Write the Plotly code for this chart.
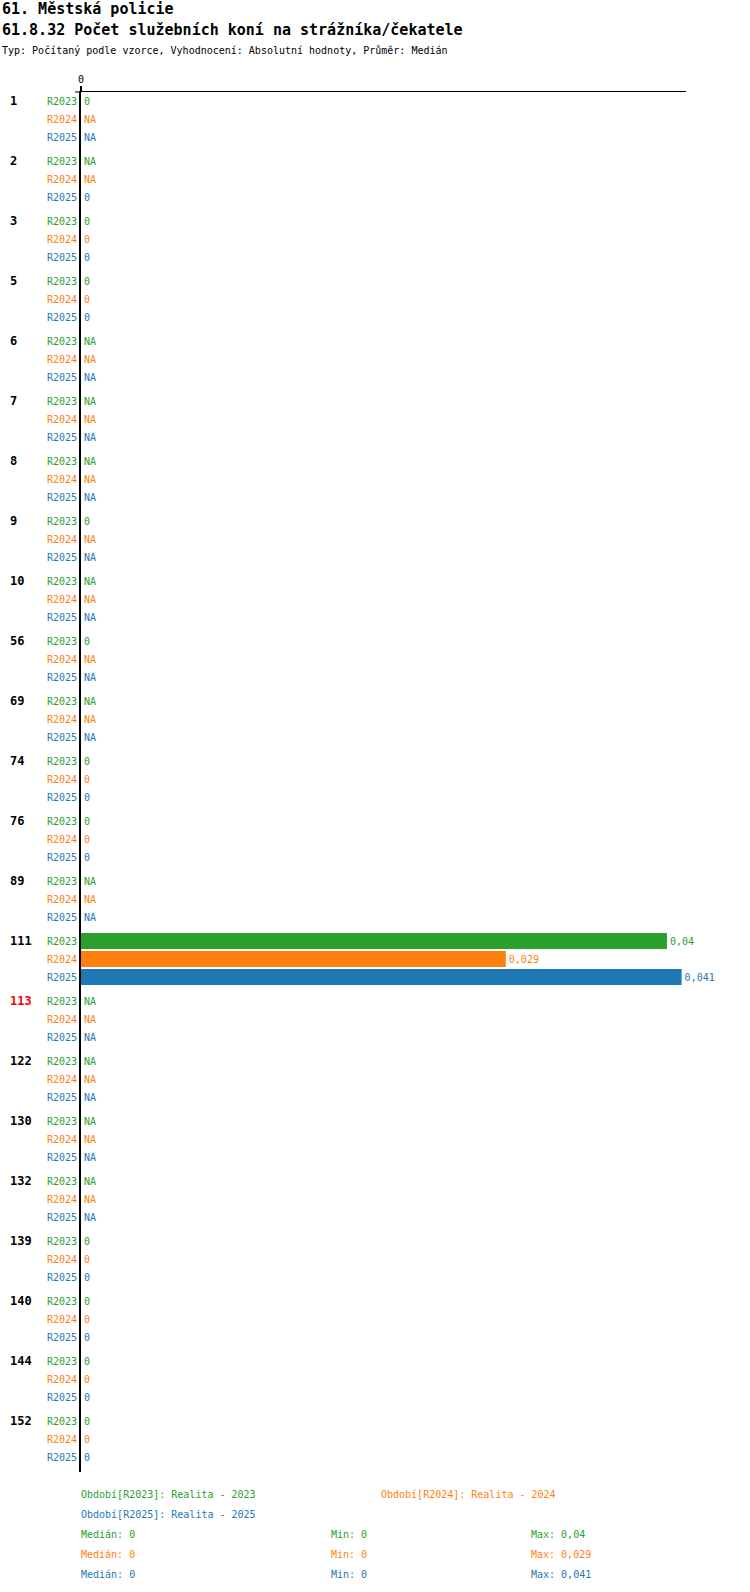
import numpy as np
import plotly.graph_objects as go

NA = None

groups = ["1", "2", "3", "5", "6", "7", "8", "9", "10", "56", "69", "74", "76",
          "89", "111", "113", "122", "130", "132", "139", "140", "144", "152"]
highlight = "113"

periods = ["R2023", "R2024", "R2025"]
period_names = ["Realita - 2023", "Realita - 2024", "Realita - 2025"]
colors = ["#2ca02c", "#ff7f0e", "#1f77b4"]

r2023 = [0, NA, 0, 0, NA, NA, NA, 0, NA, 0, NA, 0, 0, NA, 0.04, NA, NA, NA, NA, 0, 0, 0, 0]
r2024 = [NA, NA, 0, 0, NA, NA, NA, NA, NA, NA, NA, 0, 0, NA, 0.029, NA, NA, NA, NA, 0, 0, 0, 0]
r2025 = [NA, 0, 0, 0, NA, NA, NA, NA, NA, NA, NA, 0, 0, NA, 0.041, NA, NA, NA, NA, 0, 0, 0, 0]
series = [r2023, r2024, r2025]

title = "61. Městská policie"
subtitle = "61.8.32 Počet služebních koní na strážníka/čekatele"
info = "Typ: Počítaný podle vzorce, Vyhodnocení: Absolutní hodnoty, Průměr: Medián"

# page geometry (pixels)
W, H = 750, 1592
L, R, T, B = 81, 64, 92, 120
SLOT = 60 / 18  # rows per group incl. gap
FONT = "DejaVu Sans Mono"


def px(x):
    return (x - L) / (W - L - R)


def py(y):
    return 1 - (y - T) / (H - T - B)


def fmt(v):
    return "NA" if v is None else f"{v:g}".replace(".", ",")


n = len(groups)
fig = go.Figure()
tickvals, ticktext = [], []
for k, (name, vals, col) in enumerate(zip(periods, series, colors)):
    ys = [g * SLOT + k for g in range(n)]
    fig.add_trace(go.Bar(
        y=ys,
        x=[0 if v is None else v for v in vals],
        orientation="h",
        width=0.89,
        marker=dict(color=col, line=dict(width=0)),
        text=[fmt(v) for v in vals],
        textposition="outside",
        textfont=dict(family=FONT, size=10, color=col),
        constraintext="none",
        cliponaxis=False,
        name=name,
        hoverinfo="skip",
    ))
    tickvals += ys
    ticktext += [f"<span style='color:{col}'>{name}</span>"] * n

annotations = []
for g, lab in enumerate(groups):
    annotations.append(dict(
        x=px(8), xref="paper", xanchor="left",
        y=g * SLOT, yref="y", yanchor="middle",
        text=f"<b>{lab}</b>", showarrow=False,
        font=dict(family=FONT, size=12, color="red" if lab == highlight else "black"),
    ))


def note(x, y, text, size=10, color="black"):
    annotations.append(dict(
        x=px(x), xref="paper", xanchor="left",
        y=py(y), yref="paper", yanchor="middle",
        text=text, showarrow=False,
        font=dict(family=FONT, size=size, color=color),
    ))


note(0, 9, f"<b>{title}</b>", 15)
note(0, 30, f"<b>{subtitle}</b>", 15)
note(0, 51, info, 10)

# legend block
note(79, 1494, f"Období[{periods[0]}]: {period_names[0]}", color=colors[0])
note(379, 1494, f"Období[{periods[1]}]: {period_names[1]}", color=colors[1])
note(79, 1514, f"Období[{periods[2]}]: {period_names[2]}", color=colors[2])
for k, vals in enumerate(series):
    v = np.array([x for x in vals if x is not None], dtype=float)
    yy = 1534 + 20 * k
    note(79, yy, f"Medián: {fmt(float(np.median(v)))}", color=colors[k])
    note(329, yy, f"Min: {fmt(float(v.min()))}", color=colors[k])
    note(529, yy, f"Max: {fmt(float(v.max()))}", color=colors[k])

fig.update_layout(
    width=W, height=H,
    margin=dict(l=L, r=R, t=T, b=B, pad=0),
    plot_bgcolor="white", paper_bgcolor="white",
    showlegend=False,
    barmode="overlay",
    font=dict(family=FONT, size=10, color="black"),
    annotations=annotations,
    xaxis=dict(
        range=[0, 0.0413], side="top",
        showgrid=False, zeroline=False,
        showline=True, linecolor="black", linewidth=1,
        tickvals=[0], ticktext=["0"],
        ticks="outside", ticklen=5, tickwidth=2, tickcolor="black",
        ticklabelstandoff=-1,
        tickfont=dict(family=FONT, size=10),
    ),
    yaxis=dict(
        range=[(n - 1) * SLOT + 2 + 0.8333, -0.5],
        showgrid=False, zeroline=False,
        showline=True, linecolor="black", linewidth=2,
        tickvals=tickvals, ticktext=ticktext, ticks="",
        tickfont=dict(family=FONT, size=10),
    ),
    shapes=[dict(type="line", xref="paper", yref="paper",
                 x0=px(75), x1=0, y0=1, y1=1,
                 line=dict(color="black", width=1))],
)

# drop the browser's default page margin so the figure sits at (0, 0)
fig.write_html("out.html", config={"displayModeBar": False},
               post_script="document.body.style.margin='0';")
